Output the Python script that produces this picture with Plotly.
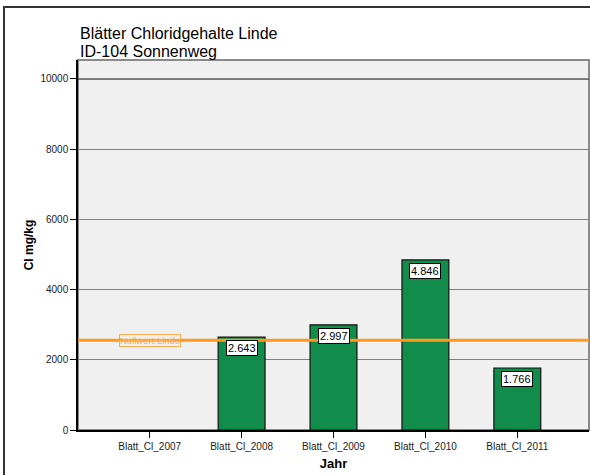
import plotly.graph_objects as go

# Chloride content of lime-tree leaves per sampling year
categories = ["Blatt_Cl_2007", "Blatt_Cl_2008", "Blatt_Cl_2009", "Blatt_Cl_2010", "Blatt_Cl_2011"]
values = [None, 2643, 2997, 4846, 1766]
baseline_value = 2560
baseline_label = "Nullwert Linde"
y_ticks = [0, 2000, 4000, 6000, 8000, 10000]

title_lines = ["Blätter Chloridgehalte Linde", "ID-104 Sonnenweg"]
x_title = "Jahr"
y_title = "Cl mg/kg"

FONT = "Liberation Sans, Arial, sans-serif"
BAR_GREEN = "#118C4A"
ORANGE = "#FF9A1F"


def de_format(v):
    # German thousands separator
    return f"{v:,.0f}".replace(",", ".")


fig = go.Figure()
fig.add_trace(go.Bar(
    x=categories,
    y=values,
    width=0.51,
    marker=dict(color=BAR_GREEN, line=dict(color="#111111", width=1.2)),
    hoverinfo="skip",
))

annotations = []
for c, v in zip(categories, values):
    if v is None:
        continue
    annotations.append(dict(
        x=c, y=v, xref="x", yref="y", yanchor="top", yshift=-3,
        text=de_format(v), showarrow=False,
        font=dict(family=FONT, size=11, color="#000000"),
        bgcolor="#FFFFFF", bordercolor="#000000", borderwidth=1, borderpad=1,
    ))

annotations.append(dict(
    x=categories[0], y=baseline_value, xref="x", yref="y",
    text=baseline_label, showarrow=False,
    font=dict(family=FONT, size=9.5, color=ORANGE),
    bordercolor=ORANGE, borderwidth=1, borderpad=0,
    bgcolor="rgba(240,240,240,0.35)", opacity=0.75,
))

# two-line chart title, aligned with the left edge of the plot area
for i, line in enumerate(title_lines):
    annotations.append(dict(
        x=0, y=1, xref="paper", yref="paper", xanchor="left", yanchor="bottom",
        align="left", text=line, showarrow=False,
        yshift=(len(title_lines) - 1 - i) * 18 - 2,
        font=dict(family=FONT, size=16, color="#000000"),
    ))

fig.update_layout(
    width=590, height=475,
    margin=dict(l=78, r=1, t=60, b=45),
    paper_bgcolor="#FFFFFF",
    plot_bgcolor="#F0F0F0",
    showlegend=False,
    annotations=annotations,
    font=dict(family=FONT, color="#000000"),
    xaxis=dict(
        type="category",
        range=[-0.78, 4.78],
        showgrid=False,
        showline=True, linecolor="#000000", linewidth=1.5,
        ticks="outside", ticklen=6, tickcolor="#000000",
        tickfont=dict(family=FONT, size=10, color="#222222"),
        title=dict(text=f"<b>{x_title}</b>", font=dict(family=FONT, size=13), standoff=8),
        zeroline=False,
    ),
    yaxis=dict(
        range=[0, 10540],
        tickvals=y_ticks,
        ticktext=[str(t) for t in y_ticks],
        showgrid=True, gridcolor="#808080", gridwidth=1.2,
        showline=True, linecolor="#000000", linewidth=1.5,
        ticks="outside", ticklen=6, tickcolor="#000000",
        tickfont=dict(family=FONT, size=10, color="#222222"),
        title=dict(text=f"<b>{y_title}</b>", font=dict(family=FONT, size=12), standoff=4),
        zeroline=False,
    ),
)

# outer chart frame
fig.add_shape(type="rect", xref="paper", yref="paper",
              x0=-0.1448, x1=1.2, y0=-0.3, y1=1.143,
              line=dict(color="#333333", width=2), layer="below")
# plot area border
fig.add_shape(type="rect", xref="paper", yref="paper",
              x0=0, x1=1, y0=0, y1=1,
              line=dict(color="#8a8a8a", width=2), layer="below")
# darker top gridline
fig.add_hline(y=y_ticks[-1], line=dict(color="#000000", width=1.2), layer="below")
# reference line for the baseline value
fig.add_hline(y=baseline_value, line=dict(color=ORANGE, width=3), layer="above")

fig.write_html("out.html")
